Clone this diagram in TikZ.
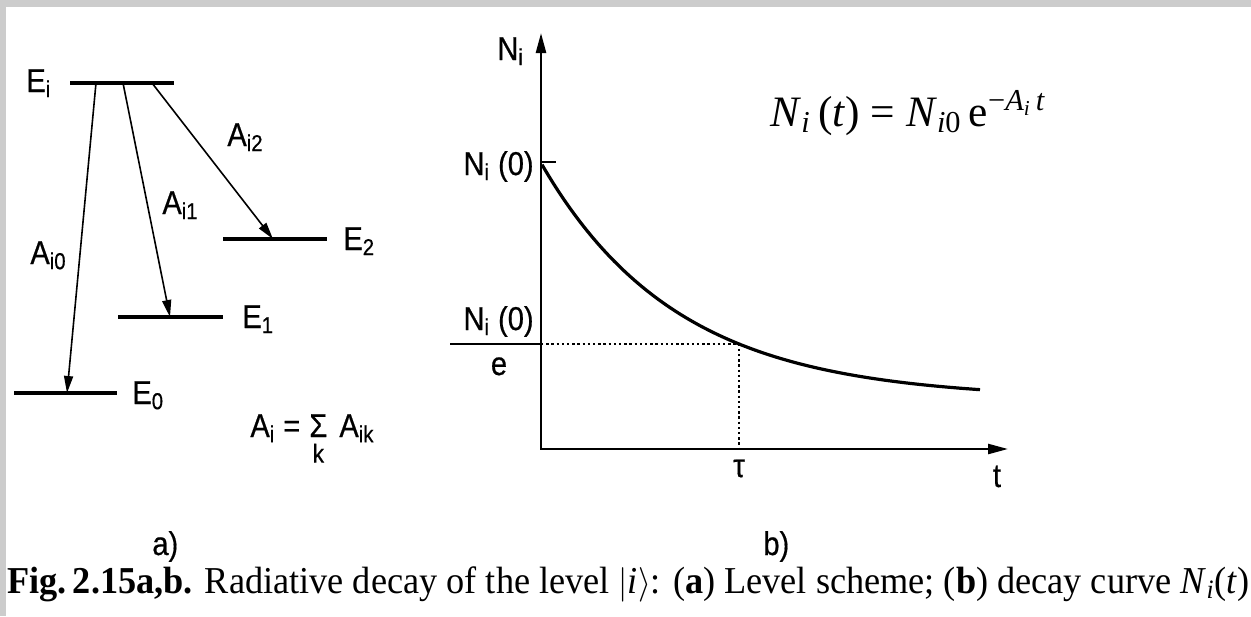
\documentclass[tikz,border=0pt]{standalone}
\usepackage{fontspec}
\setmainfont{Liberation Serif}
\setsansfont{Liberation Sans}
\newfontfamily\labelfont[FakeStretch=0.88,FakeBold=0.5]{Liberation Sans}
\usepackage{graphicx}
\usetikzlibrary{arrows.meta,positioning}

\definecolor{framegray}{RGB}{204,204,204}

\tikzset{
  level/.style={line width=1.6pt},
  decay/.style={line width=0.8pt,-{Triangle[length=8.5pt,width=4.5pt]}},
  axis/.style={line width=1.2pt,{Triangle[length=10pt,width=5pt]}-{Triangle[length=10pt,width=5pt]}},
  lbl/.style={font=\labelfont\fontsize{16.5}{19}\selectfont,inner sep=0pt},
  formula/.style={font=\rmfamily\fontsize{21.7}{25}\selectfont,inner sep=0pt},
}

\begin{document}
\begin{tikzpicture}[x=0.5pt,y=-0.5pt]
    \useasboundingbox (0,0) rectangle (1251,616);
    \fill[framegray] (0,0) rectangle (1251,616);
    \fill[white] (6,7) rectangle (1251,616);

    % a) level scheme
    \draw[level] (70,83) -- (174,83);
    \draw[level] (223,239) -- (327,239);
    \draw[level] (118,317) -- (223,317);
    \draw[level] (14,393) -- (117,393);

    \node[lbl,anchor=base west] (Ei) at (26,92) {E\textsubscript{i}};
    \node[lbl,anchor=base west] (E2) at (343,250) {E\textsubscript{2}};
    \node[lbl,anchor=base west] (E1) at (242,328) {E\textsubscript{1}};
    \node[lbl,anchor=base west] (E0) at (132,404) {E\textsubscript{0}};

    \coordinate (s0) at (96,83);  \coordinate (t0) at (67,393);
    \coordinate (s1) at (123,83); \coordinate (t1) at (170,317);
    \coordinate (s2) at (152,83); \coordinate (t2) at (273,239);
    \draw[decay] (s0) -- (t0);
    \draw[decay] (s1) -- (t1);
    \draw[decay] (s2) -- (t2);

    \node[lbl,anchor=base west] (A0) at (30,264) {A\textsubscript{i0}};
    \node[lbl,anchor=base west] (A1) at (162,214) {A\textsubscript{i1}};
    \node[lbl,anchor=base west] (A2) at (227,146) {A\textsubscript{i2}};

    % sum rule
    \node[lbl,anchor=base west] (Ai) at (250,437) {A\textsubscript{i} =};
    \node[lbl,anchor=base west] (sig) at (309,437) {Σ};
    \node[lbl,anchor=base west] (Aik) at (339,437) {A\textsubscript{ik}};
    \node[lbl,font=\labelfont\fontsize{13}{15}\selectfont,below=3pt of sig] (k) {k};

    \node[lbl,anchor=base west] (pa) at (152,555) {a)};

    % b) decay curve
    \coordinate (O) at (541,449);
    \coordinate (ytop) at (541,33);
    \coordinate (xend) at (1008,449);
    \draw[axis] (ytop) -- (O) -- (xend);
    \draw[line width=1pt] (541,162) -- (556,162);
    \draw[line width=1.6pt] plot[domain=542:980,samples=80] (\x,{399-236*exp(-(\x-541)/136)});

    \coordinate (tau) at (739,344);
    \draw[line width=1.3pt] (450,344) -- (O |- tau);
    \draw[line width=0.8pt,dash pattern=on 1.2pt off 1.4pt] (O |- tau) -- (tau) -- (tau |- O);

    \node[lbl,anchor=base west] (Ni) at (497,60) {N\textsubscript{i}};
    \node[lbl,anchor=base east] (N0) at (534,175) {N\textsubscript{i} (0)};
    \node[lbl,anchor=base east] (N0e) at (534,330) {N\textsubscript{i} (0)};
    \node[lbl,anchor=base] (e) at (499,375) {e};
    \node[lbl,anchor=base] (taul) at (739,477) {τ};
    \node[lbl,anchor=base] (tl) at (997,487) {t};
    \node[lbl,anchor=base west] (pb) at (763,555) {b)};

    \node[formula,anchor=base west] (law) at (770,126)
        {\textit{N}\textsubscript{\textit{i}}\,(\textit{t}) = \textit{N}\textsubscript{\textit{i}0}\,e\textsuperscript{−\textit{A}\textsubscript{\textit{i}}\,\textit{t}}};

    \node[inner sep=0pt,anchor=base west,font=\rmfamily\fontsize{19}{22}\selectfont] (cap) at (7,593)
        {\resizebox{621pt}{\height}{\textbf{Fig.\,2.15a,b.} Radiative decay of the level $|$\textit{i}$\rangle$: (\textbf{a}) Level scheme; (\textbf{b}) decay curve \textit{N}\textsubscript{\textit{i}}(\textit{t})}};
\end{tikzpicture}
\end{document}
